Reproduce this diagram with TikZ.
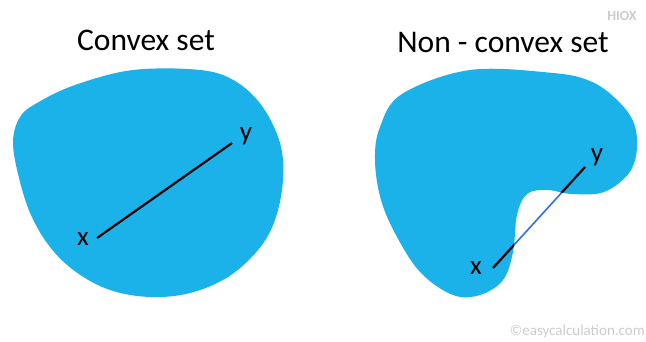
\documentclass[tikz,border=0pt]{standalone}
\usepackage{fontspec}
\setmainfont{Carlito}
\begin{document}
\begin{tikzpicture}[x=1pt,y=-1pt,
  setfill/.style={fill=setblue,draw=none},
  title/.style={font=\fontsize{31.5}{36}\selectfont,text=black,inner sep=0pt},
  ptlabel/.style={font=\fontsize{27}{30}\selectfont,text=black,inner sep=0pt},
  seg/.style={line width=2.2pt,black},
  wmark/.style={text=gray!40,inner sep=0pt}]
\definecolor{setblue}{RGB}{27,178,234}
\definecolor{gapblue}{RGB}{50,110,240}
\useasboundingbox[fill=white] (0,0) rectangle (646,341);
% titles
\node[title] (t1) at (146,40) {Convex set};
\node[title] (t2) at (503,43) {Non - convex set};
% convex set
\fill[setfill] plot[smooth cycle,tension=0.6] coordinates {
 (37,103) (75,85) (133,70) (200,70) (235,81) (262,106) (280,143) (283,180)
 (275,220) (258,250) (228,277) (190,293) (150,297) (110,290) (76,272)
 (50,247) (31,215) (19,178) (13,142) (20,117)};
\coordinate (x1) at (97,238);
\coordinate (y1) at (232,143);
\draw[seg] (x1) -- (y1);
\node[ptlabel] (lx1) at (83,239) {x};
\node[ptlabel] (ly1) at (246,136) {y};
% non-convex set
\def\ncpath{plot[smooth cycle,tension=0.6] coordinates {
 (470,70) (553,73) (590,81) (615,98) (633,121) (637,148) (629,173) (604,192)
 (572,194) (547,190) (527,194) (517,215) (513,252) (503,280) (480,295)
 (453,295) (421,273) (397,237) (381,200) (375,160) (380,127) (402,94)}}
\fill[setfill] \ncpath;
\coordinate (x2) at (493,268);
\coordinate (y2) at (585,167);
\draw[line width=1.6pt,gapblue] (x2) -- (y2);
\begin{scope}
 \clip \ncpath;
 \draw[seg] (x2) -- (y2);
\end{scope}
\node[ptlabel] (lx2) at (476,268) {x};
\node[ptlabel] (ly2) at (597,157) {y};
% watermarks
\node[wmark,font=\bfseries\fontsize{14}{16}\selectfont] (hiox) at (622,16) {HIOX};
\node[wmark,font=\fontsize{15}{17}\selectfont,anchor=east] (ec) at (645,331) {©easycalculation.com};
\end{tikzpicture}
\end{document}
